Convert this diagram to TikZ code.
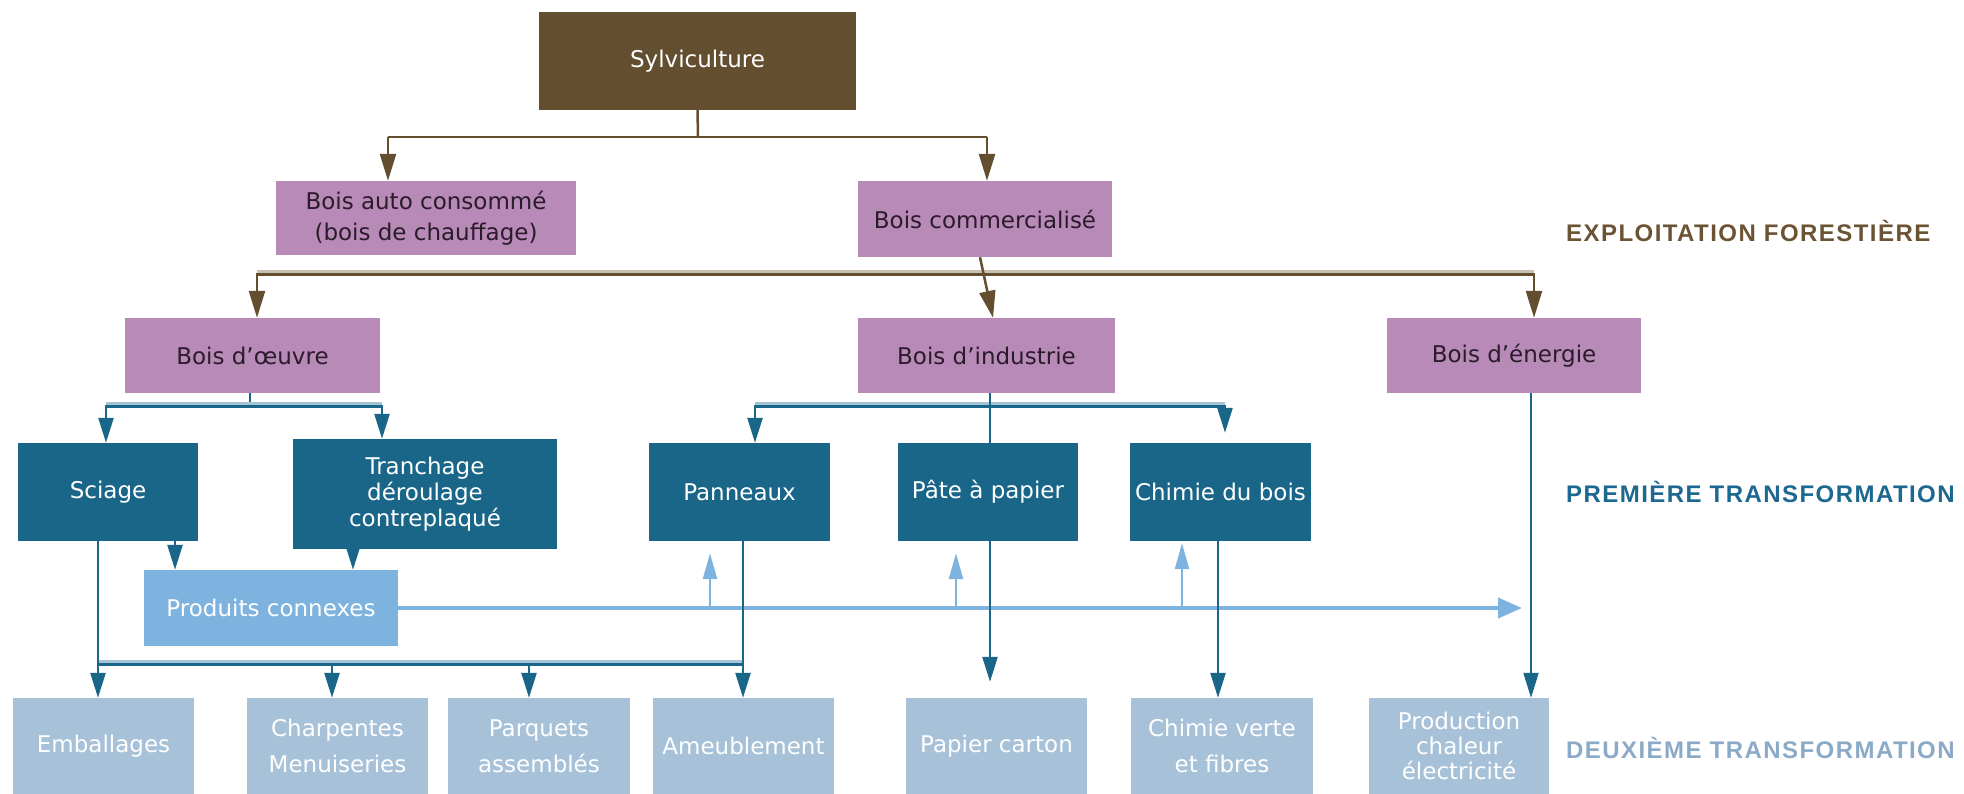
\documentclass[tikz,border=0pt]{standalone}
\usepackage{fontspec}
\setmainfont{DejaVu Sans}
\newfontfamily\labfont[LetterSpace=6]{Liberation Sans}
\usetikzlibrary{arrows.meta}
\definecolor{cbrown}{HTML}{634F30}
\definecolor{cbrownband}{HTML}{C9C1AF}
\definecolor{cmauve}{HTML}{B78AB7}
\definecolor{ctext}{HTML}{2B1B2B}
\definecolor{cteal}{HTML}{1A6689}
\definecolor{ctealband}{HTML}{A5C4D6}
\definecolor{clight}{HTML}{7DB3DE}
\definecolor{cpale}{HTML}{A6C1D8}
\definecolor{clabA}{HTML}{6A5434}
\definecolor{clabB}{HTML}{1D6890}
\definecolor{clabC}{HTML}{8BAAC8}
\begin{document}
\begin{tikzpicture}[x=1pt,y=-1pt,
  box/.style={rectangle, inner sep=0pt, align=center, font=\fontsize{23}{26}\selectfont},
  brownbox/.style={box, fill=cbrown, text=white},
  mauvebox/.style={box, fill=cmauve, text=ctext},
  tealbox/.style={box, fill=cteal, text=white},
  lightbox/.style={box, fill=clight, text=white},
  palebox/.style={box, fill=cpale, text=white},
  lab/.style={inner sep=0pt, anchor=west, font=\labfont\bfseries\fontsize{24}{28}\selectfont},
  bline/.style={draw=cbrown, line width=2.5pt},
  bband/.style={draw=cbrownband, line width=6pt},
  barrow/.style={draw=cbrown, line width=2.5pt, -{Triangle[width=16pt,length=27pt]}},
  tline/.style={draw=cteal, line width=2.5pt},
  tband/.style={draw=ctealband, line width=6pt},
  tarrow/.style={draw=cteal, line width=2.5pt, -{Triangle[width=15pt,length=25pt]}},
  larrow/.style={draw=clight, line width=4pt, -{Triangle[width=20pt,length=24pt]}},
  luarrow/.style={draw=clight, line width=2.5pt, -{Triangle[width=14pt,length=26pt]}}
]
\useasboundingbox (0,0) rectangle (1964,793);

% nodes
\node[brownbox, minimum width=317pt, minimum height=98pt] (syl) at (697.5,61) {Sylviculture};
\node[mauvebox, minimum width=300pt, minimum height=74pt, font=\fontsize{23}{31}\selectfont] (auto) at (426,218) {Bois auto consommé\\(bois de chauffage)};
\node[mauvebox, minimum width=254pt, minimum height=76pt] (comm) at (985,219) {Bois commercialisé};
\node[mauvebox, minimum width=255pt, minimum height=75pt] (oeuvre) at (252.5,355.5) {Bois d’œuvre};
\node[mauvebox, minimum width=257pt, minimum height=75pt] (indus) at (986.5,355.5) {Bois d’industrie};
\node[mauvebox, minimum width=254pt, minimum height=75pt] (energ) at (1514,355.5) {Bois d’énergie};

\node[tealbox, minimum width=180pt, minimum height=98pt] (sciage) at (108,492) {Sciage};
\node[tealbox, minimum width=264pt, minimum height=110pt] (tranch) at (425,494) {Tranchage\\déroulage\\contreplaqué};
\node[tealbox, minimum width=181pt, minimum height=98pt] (pann) at (739.5,492) {Panneaux};
\node[tealbox, minimum width=180pt, minimum height=98pt] (pate) at (988,492) {Pâte à papier};
\node[tealbox, minimum width=181pt, minimum height=98pt] (chim) at (1220.5,492) {Chimie du bois};

\node[lightbox, minimum width=254pt, minimum height=76pt] (prod) at (271,608) {Produits connexes};

\node[palebox, minimum width=181pt, minimum height=96pt] (emb) at (103.5,746) {Emballages};
\node[palebox, minimum width=181pt, minimum height=96pt, font=\fontsize{23}{36}\selectfont] (charp) at (337.5,746) {Charpentes\\Menuiseries};
\node[palebox, minimum width=182pt, minimum height=96pt, font=\fontsize{23}{36}\selectfont] (parq) at (539,746) {Parquets\\assemblés};
\node[palebox, minimum width=181pt, minimum height=96pt] (ameub) at (743.5,746) {Ameublement};
\node[palebox, minimum width=181pt, minimum height=96pt] (papier) at (996.5,746) {Papier carton};
\node[palebox, minimum width=182pt, minimum height=96pt, font=\fontsize{23}{36}\selectfont] (chv) at (1222,746) {Chimie verte\\et fibres};
\node[palebox, minimum width=180pt, minimum height=96pt, font=\fontsize{23}{25}\selectfont] (prodc) at (1459,746) {Production\\chaleur\\électricité};

\node[lab, text=clabA] (labA) at (1566,231) {EXPLOITATION FORESTIÈRE};
\node[lab, text=clabB] (labB) at (1566,492) {PREMIÈRE TRANSFORMATION};
\node[lab, text=clabC] (labC) at (1566,748) {DEUXIÈME TRANSFORMATION};

% top level
\coordinate (j1) at (698,137);
\coordinate (b1L) at (388,137);
\coordinate (b1R) at (987,137);
\draw[bline] (syl.south) -- (j1);
\draw[bline] (b1L) -- (b1R);
\draw[barrow] (b1L) -- (b1L |- auto.north);
\draw[barrow] (b1R) -- (b1R |- comm.north);

% second bus
\coordinate (b2L) at (257,273);
\coordinate (b2R) at (1534,273);
\draw[bband] (b2L) -- (b2R);
\draw[bline] ([yshift=-1.5pt]b2L) -- ([yshift=-1.5pt]b2R);
\draw[barrow] (b2L) -- (b2L |- oeuvre.north);
\draw[barrow] (b2R) -- (b2R |- energ.north);
\draw[barrow] ([xshift=-5pt]comm.south) -- ([xshift=6.5pt]indus.north);

% bois d'oeuvre
\coordinate (j3) at (250,405);
\coordinate (b3L) at (106,405);
\coordinate (b3R) at (382,405);
\draw[tline] (oeuvre.south -| j3) -- (j3);
\draw[tband] (b3L) -- (b3R);
\draw[tline] ([yshift=-1.5pt]b3L) -- ([yshift=-1.5pt]b3R);
\draw[tarrow] (b3L) -- (b3L |- sciage.north);
\draw[tarrow] (b3R) -- (b3R |- tranch.north);

% bois d'industrie
\coordinate (j4) at (990,405);
\coordinate (b4L) at (755,405);
\coordinate (b4R) at (1225,405);
\draw[tband] (b4L) -- (b4R);
\draw[tline] ([yshift=-1.5pt]b4L) -- ([yshift=-1.5pt]b4R);
\draw[tline] (indus.south -| j4) -- (pate.north -| j4);
\draw[tarrow] (b4L) -- (b4L |- pann.north);
\draw[tarrow, shorten >=10pt] (b4R) -- (b4R |- chim.north);

% bois d'energie
\coordinate (xe) at (1531,0);
\draw[draw=cteal, line width=2pt, -{Triangle[width=15pt,length=25pt]}] (energ.south -| xe) -- (prodc.north -| xe);

% produits connexes
\coordinate (xs1) at (175,0);
\coordinate (xt1) at (353,0);
\draw[tarrow] (sciage.south -| xs1) -- (prod.north -| xs1);
\draw[tarrow] (tranch.south -| xt1) -- (prod.north -| xt1);
\coordinate (u1) at (710,608);
\coordinate (u2) at (956,608);
\coordinate (u3) at (1182,608);
\coordinate (pend) at (1522,608);
\draw[luarrow, shorten >=12pt] (u1) -- (u1 |- pann.south);
\draw[luarrow, shorten >=12pt] (u2) -- (u2 |- pate.south);
\draw[luarrow, shorten >=2pt] (u3) -- (u3 |- chim.south);
\draw[larrow] (prod.east) -- (pend);

% deuxieme transformation
\coordinate (xs) at (98,0);
\coordinate (xp) at (743,0);
\coordinate (b5L) at (98,663);
\coordinate (b5R) at (743,663);
\coordinate (b5a) at (332,663);
\coordinate (b5b) at (529,663);
\draw[tband] (b5L) -- (b5R);
\draw[tline] ([yshift=-1.5pt]b5L) -- ([yshift=-1.5pt]b5R);
\draw[tarrow] (sciage.south -| xs) -- (emb.north -| xs);
\draw[tarrow] (pann.south -| xp) -- (ameub.north -| xp);
\draw[tarrow] (b5a) -- (b5a |- charp.north);
\draw[tarrow] (b5b) -- (b5b |- parq.north);
\coordinate (xpp) at (990,0);
\coordinate (xc) at (1218,0);
\draw[tarrow, shorten >=16pt] (pate.south -| xpp) -- (papier.north -| xpp);
\draw[tarrow] (chim.south -| xc) -- (chv.north -| xc);
\end{tikzpicture}
\end{document}
